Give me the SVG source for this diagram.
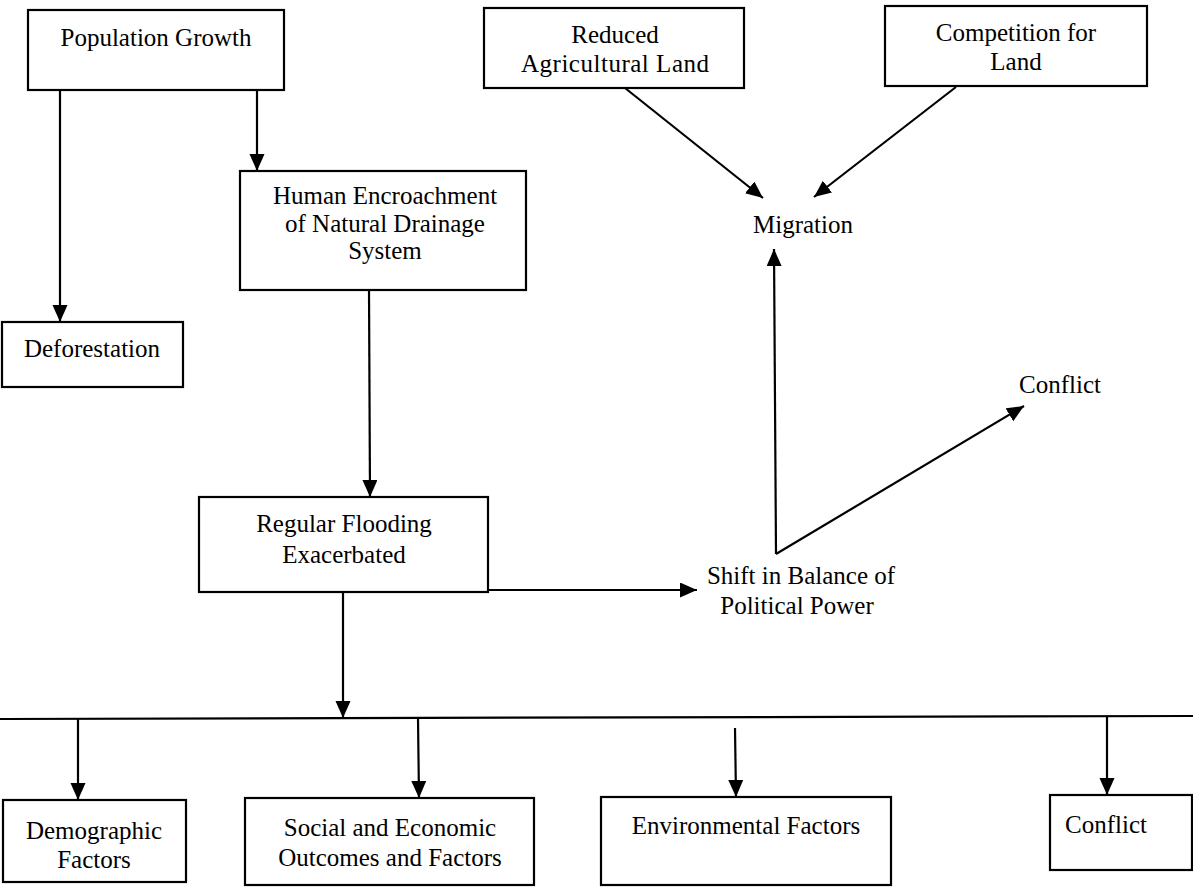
<svg xmlns="http://www.w3.org/2000/svg" width="1193" height="890" viewBox="0 0 1193 890">
<style>
.box{fill:#fff;stroke:#000;stroke-width:2.2}
.t{font-family:"Liberation Serif","Times New Roman",serif;font-size:25px;fill:#000;text-anchor:middle}
.c{fill:none;stroke:#000;stroke-width:2.2}
</style>
<defs>
<marker id="ah" markerUnits="userSpaceOnUse" markerWidth="18" markerHeight="16" refX="17" refY="7.5" orient="auto">
<path d="M0,0 L17,7.5 L0,15 z" fill="#000"/>
</marker>
</defs>
<rect width="1193" height="890" fill="#fff"/>
<g id="population-growth"><rect class="box" x="28" y="10" width="256" height="80"/><text class="t" x="156" y="46">Population Growth</text></g>
<g id="deforestation"><rect class="box" x="2" y="322" width="181" height="65"/><text class="t" x="92" y="357">Deforestation</text></g>
<g id="human-encroachment"><rect class="box" x="240" y="171" width="286" height="119"/><text class="t" x="385" y="204">Human Encroachment</text><text class="t" x="385" y="232">of Natural Drainage</text><text class="t" x="385" y="259">System</text></g>
<g id="reduced-land"><rect class="box" x="484" y="8" width="260" height="80"/><text class="t" x="615" y="43">Reduced</text><text class="t" x="615" y="72" textLength="188">Agricultural Land</text></g>
<g id="competition"><rect class="box" x="885" y="6" width="262" height="80"/><text class="t" x="1016" y="41">Competition for</text><text class="t" x="1016" y="70">Land</text></g>
<g id="migration"><text class="t" x="803" y="233">Migration</text></g>
<g id="conflict-top"><text class="t" x="1060" y="393">Conflict</text></g>
<g id="regular-flooding"><rect class="box" x="199" y="497" width="289" height="95"/><text class="t" x="344" y="532">Regular Flooding</text><text class="t" x="344" y="563">Exacerbated</text></g>
<g id="shift"><text class="t" x="801" y="584">Shift in Balance of</text><text class="t" x="797" y="614">Political Power</text></g>
<g id="demographic"><rect class="box" x="3" y="800" width="183" height="82"/><text class="t" x="94" y="839">Demographic</text><text class="t" x="94" y="868">Factors</text></g>
<g id="social"><rect class="box" x="245" y="798" width="289" height="87"/><text class="t" x="390" y="836">Social and Economic</text><text class="t" x="390" y="866">Outcomes and Factors</text></g>
<g id="environmental"><rect class="box" x="601" y="797" width="290" height="88"/><text class="t" x="746" y="834">Environmental Factors</text></g>
<g id="conflict-bottom"><rect class="box" x="1050" y="795" width="142" height="75"/><text class="t" x="1106" y="833">Conflict</text></g>
<g id="connectors">
<line class="c" x1="60" y1="90" x2="60" y2="322" marker-end="url(#ah)"/>
<line class="c" x1="257" y1="90" x2="257" y2="171" marker-end="url(#ah)"/>
<line class="c" x1="369" y1="290" x2="370" y2="497" marker-end="url(#ah)"/>
<line class="c" x1="625" y1="88" x2="763" y2="198" marker-end="url(#ah)"/>
<line class="c" x1="956" y1="87" x2="814" y2="197" marker-end="url(#ah)"/>
<line class="c" x1="488" y1="590" x2="697" y2="590" marker-end="url(#ah)"/>
<line class="c" x1="776" y1="554" x2="774" y2="249" marker-end="url(#ah)"/>
<line class="c" x1="776" y1="554" x2="1024" y2="406" marker-end="url(#ah)"/>
<line class="c" x1="343" y1="593" x2="343" y2="718" marker-end="url(#ah)"/>
<line class="c" x1="0" y1="719" x2="1193" y2="716"/>
<line class="c" x1="78" y1="719" x2="78" y2="800" marker-end="url(#ah)"/>
<line class="c" x1="418" y1="718" x2="419" y2="798" marker-end="url(#ah)"/>
<line class="c" x1="735" y1="728" x2="736" y2="797" marker-end="url(#ah)"/>
<line class="c" x1="1107" y1="717" x2="1107" y2="795" marker-end="url(#ah)"/>
</g>
</svg>
